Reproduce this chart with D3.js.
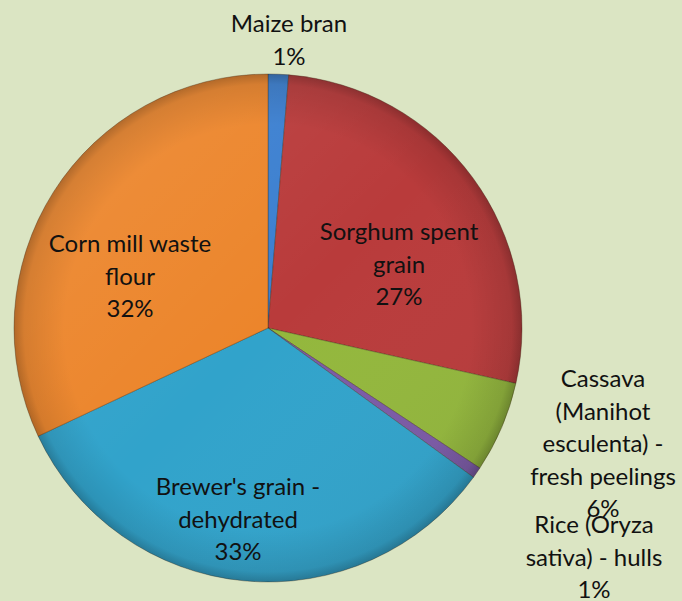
<!DOCTYPE html>
<html>
<head>
<meta charset="utf-8">
<script src="https://cdn.jsdelivr.net/npm/d3@7"></script>
<style>
  html, body { margin: 0; padding: 0; background: #dbe5c3; }
  svg { display: block; }
</style>
</head>
<body>
<div id="chart"></div>
<script>
// Shares of each feed resource (percent), clockwise from 12 o'clock
const categories = [
  "Maize bran",
  "Sorghum spent grain",
  "Cassava (Manihot esculenta) - fresh peelings",
  "Rice (Oryza sativa) - hulls",
  "Brewer's grain - dehydrated",
  "Corn mill waste flour"
];
const values = [1.3, 27.2, 5.8, 0.7, 33.0, 32.0];
const percentLabels = ["1%", "27%", "6%", "1%", "33%", "32%"];
const labelLines = [
  ["Maize bran"],
  ["Sorghum spent", "grain"],
  ["Cassava", "(Manihot", "esculenta) -", "fresh peelings"],
  ["Rice (Oryza", "sativa) - hulls"],
  ["Brewer's grain -", "dehydrated"],
  ["Corn mill waste", "flour"]
];
const colors = ["#3b7fd0", "#b93b3b", "#93b73c", "#7b5aa6", "#31a3cb", "#ec852b"];

// label block centres (first line), relative to pie centre
const labelPos = [
  [21, -306], [131, -98], [335, 49], [326, 195], [-30, 157], [-138, -86]
];

const width = 682, height = 601;
const cx = 268, cy = 328, radius = 254;
const lineH = 32.5;

const svg = d3.select("#chart").append("svg")
  .attr("width", width)
  .attr("height", height);

svg.append("rect").attr("width", width).attr("height", height).attr("fill", "#dbe5c3");

const defs = svg.append("defs");
const shade = defs.append("radialGradient")
  .attr("id", "shade")
  .attr("gradientUnits", "userSpaceOnUse")
  .attr("cx", 0).attr("cy", 0).attr("r", radius);
shade.append("stop").attr("offset", "0.80").attr("stop-color", "#000").attr("stop-opacity", 0);
shade.append("stop").attr("offset", "0.96").attr("stop-color", "#000").attr("stop-opacity", 0.10);
shade.append("stop").attr("offset", "1").attr("stop-color", "#000").attr("stop-opacity", 0.25);

const light = defs.append("linearGradient")
  .attr("id", "light")
  .attr("gradientUnits", "userSpaceOnUse")
  .attr("x1", -radius).attr("y1", -radius).attr("x2", radius).attr("y2", radius);
light.append("stop").attr("offset", "0").attr("stop-color", "#fff").attr("stop-opacity", 0.10);
light.append("stop").attr("offset", "0.5").attr("stop-color", "#fff").attr("stop-opacity", 0);
light.append("stop").attr("offset", "1").attr("stop-color", "#000").attr("stop-opacity", 0.08);

const data = categories.map((c, i) => ({ category: c, value: values[i], i }));

const pie = d3.pie().sort(null).value(d => d.value);
const arc = d3.arc().innerRadius(0).outerRadius(radius);
const arcs = pie(data);

const g = svg.append("g").attr("transform", `translate(${cx},${cy})`);

g.selectAll("path.slice")
  .data(arcs)
  .join("path")
    .attr("class", "slice")
    .attr("d", arc)
    .attr("fill", d => colors[d.data.i])
    .attr("stroke", "rgba(60,40,20,0.35)")
    .attr("stroke-width", 1);

g.selectAll("path.light")
  .data(arcs)
  .join("path")
    .attr("class", "light")
    .attr("d", arc)
    .attr("fill", "url(#light)");

g.selectAll("path.shade")
  .data(arcs)
  .join("path")
    .attr("class", "shade")
    .attr("d", arc)
    .attr("fill", "url(#shade)");

const labels = g.selectAll("text.label")
  .data(arcs)
  .join("text")
    .attr("class", "label")
    .attr("text-anchor", "middle")
    .attr("dominant-baseline", "central")
    .style("font-family", "Lato, 'Open Sans', sans-serif")
    .style("font-size", "24px")
    .attr("fill", "#111");

labels.each(function(d) {
  const t = d3.select(this);
  const [lx, ly] = labelPos[d.data.i];
  const lines = labelLines[d.data.i].concat([percentLabels[d.data.i]]);
  lines.forEach((s, k) => {
    t.append("tspan")
      .attr("x", lx)
      .attr("y", ly + k * lineH)
      .text(s);
  });
});
</script>
</body>
</html>
